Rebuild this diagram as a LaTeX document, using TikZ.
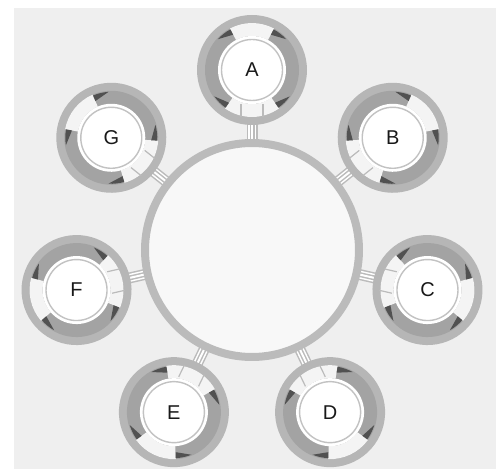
\documentclass[tikz,border=0pt]{standalone}
\usepackage{fontspec}
\setmainfont{Liberation Sans}
\definecolor{bggray}{HTML}{EFEFEF}
\definecolor{rimgray}{HTML}{B6B6B6}
\definecolor{bandgray}{HTML}{A3A3A3}
\definecolor{gapwhite}{HTML}{F4F4F4}
\definecolor{ringgray}{HTML}{BBBBBB}
\definecolor{hubfill}{HTML}{F8F8F8}
\tikzset{
  link/.style={draw=ringgray, line width=11pt,
    postaction={draw=white, line width=8pt,
      postaction={draw=ringgray, line width=5pt,
        postaction={draw=white, line width=2pt}}}},
  hubring/.style={draw=ringgray, line width=8pt, fill=hubfill},
  edgeshade/.style={fill=black!85, opacity=0.65},
  porttick/.style={draw=ringgray, line width=1.2pt},
  discring/.style={draw=ringgray!90, line width=1.4pt},
  letter/.style={font=\fontsize{20}{20}\selectfont, text=black!90}
}
\begin{document}
\begin{tikzpicture}[x=1pt, y=1pt]
  \useasboundingbox (0,0) rectangle (496,469);
  % Backdrop
  \fill[bggray] (14,0) rectangle (496,461);
  % Hub and satellite positions
  \coordinate (hub) at (252,219);
  \foreach \lbl [count=\k from 0] in {A,...,G}
    \coordinate (s\lbl) at ([shift={({90-\k*360/7}:180)}]hub);
  % Links
  \foreach \lbl in {A,...,G}
    \draw[link] (hub) -- (s\lbl);
  % Hub
  \draw[hubring] (hub) circle (107);
  % Satellites
  \foreach \lbl [count=\k from 0] in {A,...,G} {
    \begin{scope}[shift={(s\lbl)}, rotate={-\k*360/7}]
      \fill[rimgray] (0,0) circle (55);
      \fill[bandgray] (0,0) circle (47);
      % gaps
      \fill[gapwhite] (62:47) arc[start angle=62, end angle=118, radius=47]
        -- (118:34) arc[start angle=118, end angle=62, radius=34] -- cycle;
      \fill[gapwhite] (235:47) arc[start angle=235, end angle=305, radius=47]
        -- (305:34) arc[start angle=305, end angle=235, radius=34] -- cycle;
      % dark edges
      \foreach \a/\s in {118/1, 62/-1, 235/-1, 305/1}
        \fill[edgeshade] (\a:46) arc[start angle=\a, delta angle=\s*20, radius=46]
          -- (\a:40) -- cycle;
      % port ticks
      \draw[porttick] (-11,-34) -- (-11,-47);
      \draw[porttick] (11,-34) -- (11,-47);
      % letter disc
      \fill[white] (0,0) circle (34);
      \draw[discring] (0,0) circle (30.5);
    \end{scope}
    \node[letter] (\lbl) at (s\lbl) {\lbl};
  }
\end{tikzpicture}
\end{document}
